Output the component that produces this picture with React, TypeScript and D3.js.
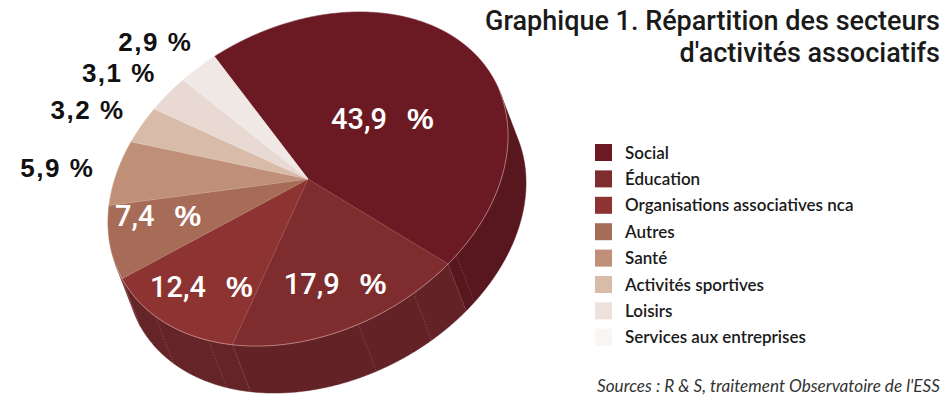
import React from 'react';
import * as d3 from 'd3';

// ---- data ----
const categories = [
  'Social',
  'Éducation',
  'Organisations associatives nca',
  'Autres',
  'Santé',
  'Activités sportives',
  'Loisirs',
  'Services aux entreprises',
];
const values = [43.9, 17.9, 12.4, 7.4, 5.9, 3.2, 3.1, 2.9];
const topColors = ['#6b1a24', '#7e2c2e', '#8d3433', '#a76c57', '#bf8f78', '#d8bba9', '#e8dad2', '#f0e8e4'];
const legendColors = ['#6b1a24', '#7e2c2e', '#8d3433', '#a76c57', '#bf8f78', '#d8bba9', '#ede1dc', '#f9f5f3'];
const sideColors = ['#58171f', '#622226', '#652427', '#6b2a2a', '#6b2a2a', '#6b2a2a', '#6b2a2a', '#6b2a2a'];
const insideLabel = [true, true, true, true, false, false, false, false];
const titleLines = ['Graphique 1. Répartition des secteurs', "d'activités associatifs"];
const sourceText = "Sources : R & S, traitement Observatoire de l'ESS";

// ---- geometry / style ----
const W = 952;
const H = 400;
const cx = 308;
const cy = 179;
const ra = 211;
const rb = 153;
const tilt = (27.5 * Math.PI) / 180;
const ext: [number, number] = [18, 47];
const startDeg = -7.2;
const labelRadius = [0.46, 0.7, 0.75, 0.75];
const labelAngleFrac = [0.5, 0.5, 0.5, 0.7];
const outsideRadius = 1.2;
const sideSeamDeg = [152.8, 168.8, 186.1, 230.5, 250.4];

const U: [number, number] = [Math.cos(tilt), -Math.sin(tilt)];
const V: [number, number] = [Math.sin(tilt), Math.cos(tilt)];

function proj(theta: number, r = 1): [number, number] {
  const lx = ra * r * Math.sin(theta);
  const ly = -rb * r * Math.cos(theta);
  return [cx + lx * U[0] + ly * V[0], cy + lx * U[1] + ly * V[1]];
}
const eu = ext[0] * U[0] + ext[1] * U[1];
const ev = ext[0] * V[0] + ext[1] * V[1];
const isFront = (t: number) => (Math.sin(t) * eu) / ra - (Math.cos(t) * ev) / rb > 0;

const fmt = (v: number) => v.toFixed(1).replace('.', ',');

export default function App() {
  const start = (startDeg * Math.PI) / 180;
  const pie = d3
    .pie<number>()
    .sort(null)
    .startAngle(start)
    .endAngle(start + 2 * Math.PI);
  const arcs = pie(values);
  const line = d3.line<[number, number]>().x((d) => d[0]).y((d) => d[1]);
  const step = (0.25 * Math.PI) / 180;

  const samples = (a0: number, a1: number) => {
    const pts: number[] = [];
    const n = Math.max(2, Math.ceil((a1 - a0) / step));
    for (let i = 0; i <= n; i++) pts.push(a0 + ((a1 - a0) * i) / n);
    return pts;
  };

  // top faces
  const tops = arcs.map((a) => {
    const pts: [number, number][] = [[cx, cy], ...samples(a.startAngle, a.endAngle).map((t) => proj(t))];
    return line(pts) + 'Z';
  });

  // side walls (front facing only)
  const sides: { d: string; color: string }[] = [];
  arcs.forEach((a, i) => {
    const ts = samples(a.startAngle, a.endAngle);
    let run: number[] = [];
    const flush = () => {
      if (run.length > 1) {
        const topPts = run.map((t) => proj(t));
        const botPts = run
          .map((t) => {
            const p = proj(t);
            return [p[0] + ext[0], p[1] + ext[1]] as [number, number];
          })
          .reverse();
        sides.push({ d: line([...topPts, ...botPts]) + 'Z', color: sideColors[i] });
      }
      run = [];
    };
    ts.forEach((t) => {
      if (isFront(t)) run.push(t);
      else flush();
    });
    flush();
  });

  // rim along front edge
  const allT = samples(start, start + 2 * Math.PI).filter((t) => isFront(t));
  const rim = line(allT.map((t) => proj(t)));

  // seams (side facet edges)
  const seamAngles = [
    ...sideSeamDeg.map((d) => (d * Math.PI) / 180),
    ...arcs.map((a) => a.endAngle),
  ].filter((t) => isFront(t));

  const legendX = 595;
  const legendY = 144;
  const legendStep = 26.4;
  const sq = 17;

  return (
    <svg
      width={W}
      height={H}
      viewBox={`0 0 ${W} ${H}`}
      style={{ position: 'absolute', left: 0, top: 0, background: '#ffffff' }}
    >
      <rect width={W} height={H} fill="#ffffff" />
      {/* side walls */}
      {sides.map((s, i) => (
        <path key={'s' + i} d={s.d} fill={s.color} stroke={s.color} strokeWidth={0.5} />
      ))}
      {seamAngles.map((t, i) => {
        const p = proj(t);
        return (
          <line
            key={'seam' + i}
            x1={p[0]}
            y1={p[1]}
            x2={p[0] + ext[0]}
            y2={p[1] + ext[1]}
            stroke="#b07070"
            strokeOpacity={0.55}
            strokeWidth={0.8}
            strokeDasharray="1.5,1.5"
          />
        );
      })}
      {/* top faces */}
      {tops.map((d, i) => (
        <path key={'t' + i} d={d} fill={topColors[i]} stroke={topColors[i]} strokeWidth={0.6} />
      ))}
      {tops.map((d, i) => (
        <path key={'tl' + i} d={d} fill="none" stroke="#ffffff" strokeOpacity={0.12} strokeWidth={0.6} />
      ))}
      <path d={rim || ''} fill="none" stroke="#e8b8b8" strokeOpacity={0.6} strokeWidth={0.9} />

      {/* labels */}
      {arcs.map((a, i) => {
        const label = fmt(values[i]);
        if (insideLabel[i]) {
          const ang = a.startAngle + (a.endAngle - a.startAngle) * labelAngleFrac[i];
          const [x, y] = proj(ang, labelRadius[i]);
          return (
            <text key={'l' + i} x={x} y={y + 10} textAnchor="middle" fill="#ffffff">
              <tspan fontFamily="Roboto, 'Liberation Sans', sans-serif" fontWeight={500} fontSize={29}>
                {label}
              </tspan>
              <tspan dx={20} fontFamily="'Liberation Sans', Arial, sans-serif" fontWeight={700} fontSize={30}>
                %
              </tspan>
            </text>
          );
        }
        const mid = (a.startAngle + a.endAngle) / 2;
        const [x, y] = proj(mid, outsideRadius);
        return (
          <text
            key={'l' + i}
            x={x + 16}
            y={y + 5}
            textAnchor="end"
            fill="#111111"
            fontFamily="'Liberation Sans', Arial, sans-serif"
            fontWeight={700}
            fontSize={26}
            letterSpacing={1.5}
          >
            {label + ' %'}
          </text>
        );
      })}

      {/* title */}
      {titleLines.map((t, i) => (
        <text
          key={'title' + i}
          x={940}
          y={30 + i * 32}
          textAnchor="end"
          fill="#1a1a1a"
          fontFamily="Roboto, 'DejaVu Sans Condensed', sans-serif"
          fontWeight={500}
          fontSize={27}
        >
          {t}
        </text>
      ))}

      {/* legend */}
      {categories.map((c, i) => (
        <g key={'lg' + i} transform={`translate(${legendX},${legendY + i * legendStep})`}>
          <rect width={sq} height={sq} fill={legendColors[i]} />
          <text
            x={30}
            y={14.5}
            fill="#1a1a1a"
            fontFamily="Lato, 'Open Sans', sans-serif"
            fontWeight={600}
            fontSize={17}
          >
            {c}
          </text>
        </g>
      ))}

      {/* source */}
      <text
        x={940}
        y={392}
        textAnchor="end"
        fill="#333333"
        fontFamily="Lato, 'Open Sans', sans-serif"
        fontStyle="italic"
        fontSize={17}
        textLength={343}
        lengthAdjust="spacingAndGlyphs"
      >
        {sourceText}
      </text>
    </svg>
  );
}
